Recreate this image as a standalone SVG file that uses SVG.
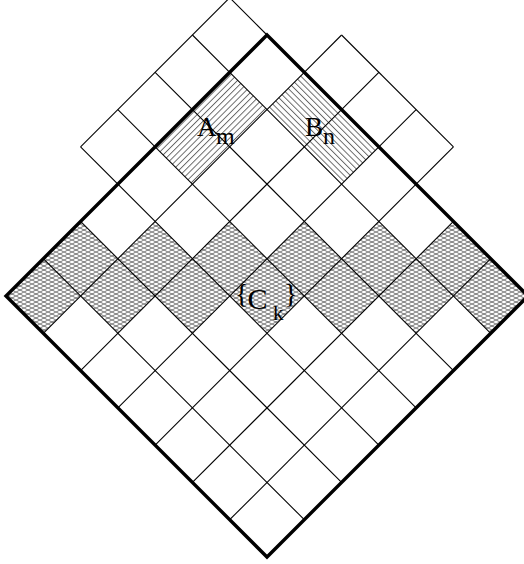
<svg xmlns="http://www.w3.org/2000/svg" width="524" height="564" viewBox="0 0 524 564">
<style>
.grid{stroke:#000;stroke-width:1.1;fill:none}
.border{stroke:#000;stroke-width:3.4;fill:none;stroke-linejoin:miter}
.lbl{font-family:"Liberation Serif","Times New Roman",serif;fill:#000}
</style>
<defs>
<pattern id="mesh" patternUnits="userSpaceOnUse" width="8" height="4">
<path d="M0,0 L8,4 M0,4 L8,0" stroke="#555" stroke-width="0.8" fill="none"/>
</pattern>
<pattern id="hatchA" patternUnits="userSpaceOnUse" width="4.4" height="10" patternTransform="rotate(45)">
<line x1="0.5" y1="0" x2="0.5" y2="10" stroke="#222" stroke-width="0.7"/>
</pattern>
<pattern id="hatchB" patternUnits="userSpaceOnUse" width="4.4" height="10" patternTransform="rotate(-45)">
<line x1="0.5" y1="0" x2="0.5" y2="10" stroke="#222" stroke-width="0.7"/>
</pattern>
</defs>
<rect width="524" height="564" fill="#fff"/>
<g id="band-C">
<polygon fill="url(#mesh)" points="6,296 43.29,258.71 80.57,221.43 117.86,258.71 155.14,221.43 192.43,258.71 229.71,221.43 267,258.71 304.29,221.43 341.57,258.71 378.86,221.43 416.14,258.71 453.43,221.43 490.71,258.71 528,296 490.71,333.29 453.43,296 416.14,333.29 378.86,296 341.57,333.29 304.29,296 267,333.29 229.71,296 192.43,333.29 155.14,296 117.86,333.29 80.57,296 43.29,333.29"/>
</g>
<g id="region-A">
<polygon fill="url(#hatchA)" points="229.71,72.29 267,109.57 192.43,184.14 155.14,146.86"/>
</g>
<g id="region-B">
<polygon fill="url(#hatchB)" points="304.29,72.29 378.86,146.86 341.57,184.14 267,109.57"/>
</g>
<g id="grid" class="grid">
<line x1="229.71" y1="72.29" x2="490.71" y2="333.29"/>
<line x1="192.43" y1="109.57" x2="453.43" y2="370.57"/>
<line x1="155.14" y1="146.86" x2="416.14" y2="407.86"/>
<line x1="117.86" y1="184.14" x2="378.86" y2="445.14"/>
<line x1="80.57" y1="221.43" x2="341.57" y2="482.43"/>
<line x1="43.29" y1="258.71" x2="304.29" y2="519.71"/>
<line x1="304.29" y1="72.29" x2="43.29" y2="333.29"/>
<line x1="341.57" y1="109.57" x2="80.57" y2="370.57"/>
<line x1="378.86" y1="146.86" x2="117.86" y2="407.86"/>
<line x1="416.14" y1="184.14" x2="155.14" y2="445.14"/>
<line x1="453.43" y1="221.43" x2="192.43" y2="482.43"/>
<line x1="490.71" y1="258.71" x2="229.71" y2="519.71"/>
</g>
<g id="strip-left" class="grid">
<line x1="229.71" y1="-2.29" x2="80.57" y2="146.86"/>
<line x1="229.71" y1="-2.29" x2="267" y2="35"/>
<line x1="192.43" y1="35" x2="229.71" y2="72.29"/>
<line x1="155.14" y1="72.29" x2="192.43" y2="109.57"/>
<line x1="117.86" y1="109.57" x2="155.14" y2="146.86"/>
<line x1="80.57" y1="146.86" x2="117.86" y2="184.14"/>
</g>
<g id="strip-right" class="grid">
<line x1="341.57" y1="35" x2="453.43" y2="146.86"/>
<line x1="341.57" y1="35" x2="304.29" y2="72.29"/>
<line x1="378.86" y1="72.29" x2="341.57" y2="109.57"/>
<line x1="416.14" y1="109.57" x2="378.86" y2="146.86"/>
<line x1="453.43" y1="146.86" x2="416.14" y2="184.14"/>
</g>
<g id="diamond">
<polygon class="border" points="267,35 528,296 267,557 6,296"/>
</g>
<g id="labels" class="lbl">
<text x="197" y="136" font-size="27">A<tspan x="216" y="144" font-size="24">m</tspan></text>
<text x="305" y="136" font-size="27">B<tspan x="323" y="144" font-size="24">n</tspan></text>
<text font-size="30"><tspan x="235" y="303" font-size="28">{</tspan><tspan x="247.5" y="309">C</tspan><tspan x="273" y="320" font-size="21">k</tspan><tspan x="284" y="303" font-size="28">}</tspan></text>
</g>
</svg>
